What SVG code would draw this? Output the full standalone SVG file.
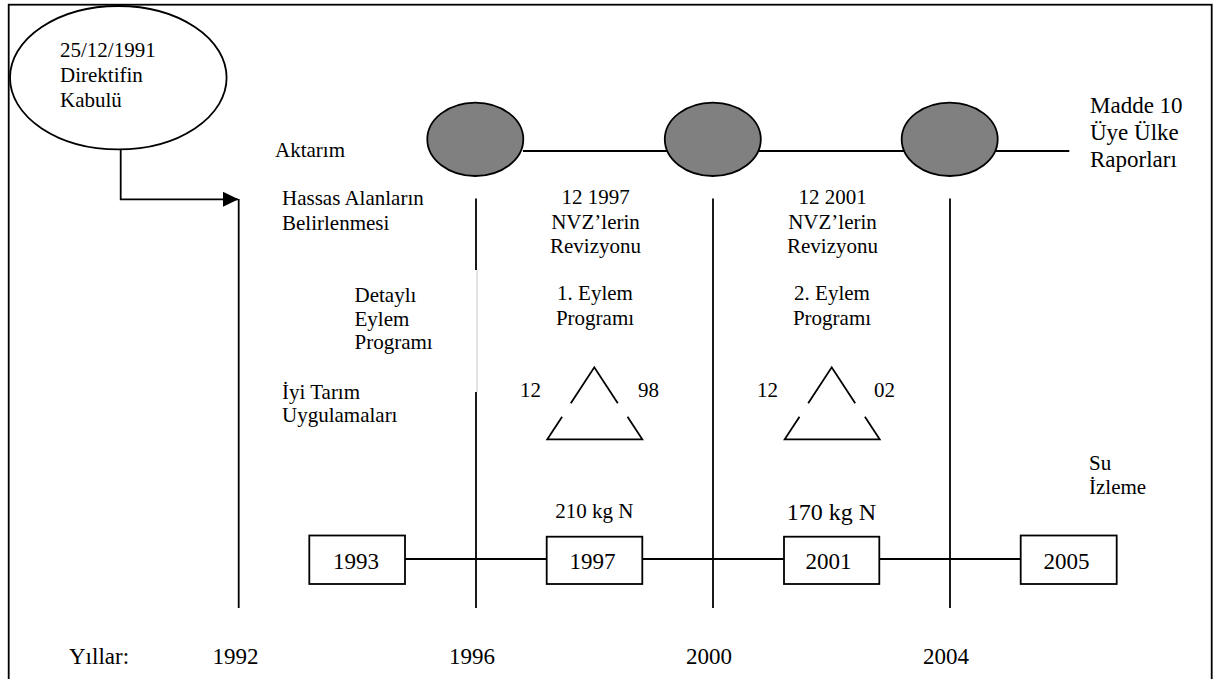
<svg xmlns="http://www.w3.org/2000/svg" width="1224" height="679" viewBox="0 0 1224 679" font-family="'Liberation Serif', Tinos, 'Noto Serif', FreeSerif, 'Nimbus Roman', Times, serif">
<style>
text{font-family:'Liberation Serif',Tinos,'Noto Serif',FreeSerif,'Nimbus Roman',Times,serif;fill:#000;font-size:21px}
.big{font-size:23px}
.ln{stroke:#000;stroke-width:1.8;fill:none}
.dot{fill:#808080;stroke:#000;stroke-width:1.8}
.box{fill:#fff;stroke:#000;stroke-width:1.8}
.mid{text-anchor:middle}
</style>
<defs>
<marker id="arr" markerWidth="16" markerHeight="16" refX="15" refY="7.5" orient="auto" markerUnits="userSpaceOnUse">
<path d="M0,0 L15.5,7.5 L0,15 Z" fill="#000"/>
</marker>
</defs>
<rect x="8.7" y="4.7" width="1203" height="700" fill="#fff" stroke="#000" stroke-width="1.8"/>

<g id="connectors">
<path class="ln" d="M120.7,149 V199.3 H238" stroke-width="2" marker-end="url(#arr)"/>
<line class="ln" x1="238.7" y1="199" x2="238.7" y2="608"/>
<line class="ln" x1="476" y1="198.5" x2="476" y2="270"/>
<line x1="477" y1="270" x2="477" y2="392" stroke="#c8c8c8" stroke-width="1"/>
<line class="ln" x1="476" y1="392" x2="476" y2="608"/>
<line class="ln" x1="713" y1="198.5" x2="713" y2="608"/>
<line class="ln" x1="950" y1="198.5" x2="950" y2="608"/>
<line class="ln" x1="523" y1="151" x2="1069.3" y2="151"/>
<line class="ln" x1="405" y1="559" x2="1020.7" y2="559"/>
</g>

<g id="n-direktif">
<ellipse cx="118.3" cy="77.7" rx="108.3" ry="71.7" fill="#fff" stroke="#000" stroke-width="1.8"/>
<text x="60" y="57">25/12/1991</text>
<text x="60" y="82">Direktifin</text>
<text x="60" y="107">Kabulü</text>
</g>

<g id="n-dot1"><ellipse class="dot" cx="475.3" cy="139.3" rx="48" ry="36.7"/></g>
<g id="n-dot2"><ellipse class="dot" cx="712.8" cy="139.3" rx="48" ry="36.7"/></g>
<g id="n-dot3"><ellipse class="dot" cx="949.7" cy="139.3" rx="48" ry="36.7"/></g>

<g id="n-madde">
<text class="big" x="1090" y="113">Madde 10</text>
<text class="big" x="1090" y="140">Üye Ülke</text>
<text class="big" x="1090" y="167">Raporları</text>
</g>

<g id="n-labels-left">
<text x="275" y="157">Aktarım</text>
<text x="282" y="205">Hassas Alanların</text>
<text x="282" y="230">Belirlenmesi</text>
<text x="354.5" y="302">Detaylı</text>
<text x="354.5" y="325.5">Eylem</text>
<text x="354.5" y="349">Programı</text>
<text x="282" y="398.5">İyi Tarım</text>
<text x="282" y="422">Uygulamaları</text>
</g>

<g id="n-col1">
<text class="mid" x="595.5" y="204">12 1997</text>
<text class="mid" x="595.5" y="228.5">NVZ’lerin</text>
<text class="mid" x="595.5" y="252.5">Revizyonu</text>
<text class="mid" x="595" y="300">1. Eylem</text>
<text class="mid" x="595" y="325">Programı</text>
</g>

<g id="n-col2">
<text class="mid" x="832.5" y="204">12 2001</text>
<text class="mid" x="832.5" y="228.5">NVZ’lerin</text>
<text class="mid" x="832.5" y="252.5">Revizyonu</text>
<text class="mid" x="832" y="300">2. Eylem</text>
<text class="mid" x="832" y="325">Programı</text>
</g>

<g id="n-tri1">
<path class="ln" d="M570.8,403.3 L594.3,367.3 L617.8,403.3 M562.1,416.7 L547.3,439.3 H642.3 L627.5,416.7"/>
<text x="520" y="397">12</text>
<text x="638" y="397">98</text>
</g>
<g id="n-tri2">
<path class="ln" d="M808.2,403.3 L831.7,367.3 L855.2,403.3 M799.5,416.7 L784.7,439.3 H879.7 L864.9,416.7"/>
<text x="757" y="397">12</text>
<text x="874" y="397">02</text>
</g>

<g id="n-izleme">
<text x="1089" y="469.5">Su</text>
<text x="1089" y="494">İzleme</text>
</g>

<g id="n-kg1"><text class="mid" x="594.3" y="517.5">210 kg N</text></g>
<g id="n-kg2"><text class="mid" x="831.5" y="519.5" style="font-size:24px">170 kg N</text></g>

<g id="n-b1993"><rect class="box" x="309.3" y="535.5" width="95.7" height="48.5"/><text class="big mid" x="356" y="568.5">1993</text></g>
<g id="n-b1997"><rect class="box" x="546.7" y="536.7" width="95.6" height="47.3"/><text class="big mid" x="592.5" y="568.5">1997</text></g>
<g id="n-b2001"><rect class="box" x="784" y="536.7" width="95.3" height="47.3"/><text class="big mid" x="828.5" y="568.5">2001</text></g>
<g id="n-b2005"><rect class="box" x="1020.7" y="535.5" width="96" height="48.5"/><text class="big mid" x="1066.5" y="568.5">2005</text></g>

<g id="n-years">
<text class="big" x="69" y="663.5">Yıllar:</text>
<text class="big mid" x="235.5" y="663.5">1992</text>
<text class="big mid" x="472" y="663.5">1996</text>
<text class="big mid" x="709" y="663.5">2000</text>
<text class="big mid" x="946" y="663.5">2004</text>
</g>
</svg>
